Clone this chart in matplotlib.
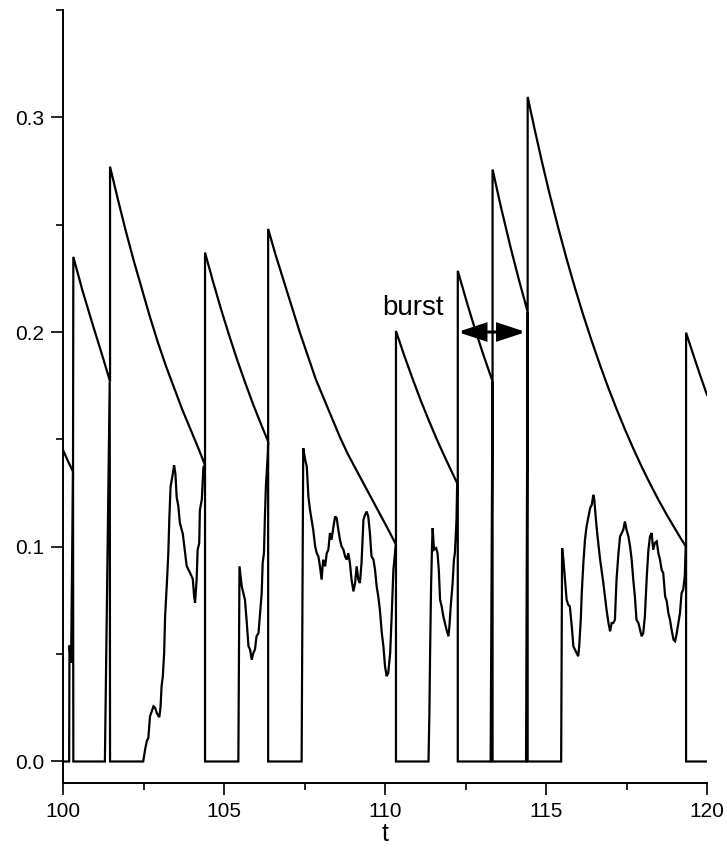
import numpy as np
import matplotlib
matplotlib.use("Agg")
import matplotlib.pyplot as plt
from matplotlib.ticker import MultipleLocator
from matplotlib.patches import FancyArrowPatch

plt.rcParams['font.family'] = ['Liberation Sans', 'DejaVu Sans']

# threshold: decaying after each spike, jumps up at the spike
thr_t = [100.00, 100.15, 100.31,
         100.32, 100.60, 100.90, 101.20, 101.46,
         101.46, 101.70, 101.95, 102.20, 102.45, 102.70, 102.95, 103.20, 103.45,
         103.70, 103.95, 104.20, 104.41,
         104.41, 104.65, 104.90, 105.15, 105.40, 105.65, 105.90, 106.15, 106.37,
         106.37, 106.60, 106.85, 107.10, 107.35, 107.60, 107.85, 108.10, 108.35,
         108.60, 108.85, 109.10, 109.35, 109.60, 109.85, 110.10, 110.34,
         110.34, 110.60, 110.85, 111.10, 111.35, 111.60, 111.85, 112.05, 112.26,
         112.26, 112.55, 112.80, 113.05, 113.34,
         113.34, 113.60, 113.90, 114.15, 114.43,
         114.43, 114.65, 114.87, 115.10, 115.38, 115.65, 115.90, 116.15, 116.42,
         116.68, 116.93, 117.20, 117.45, 117.70, 117.97, 118.23, 118.49, 118.75,
         119.01, 119.18, 119.35,
         119.35, 119.55, 119.75, 120.00]
thr_v = [0.145, 0.140, 0.135,
         0.235, 0.2195, 0.2045, 0.190, 0.177,
         0.277, 0.262, 0.247, 0.233, 0.220, 0.207, 0.195, 0.184, 0.174,
         0.164, 0.155, 0.146, 0.138,
         0.237, 0.2239, 0.211, 0.1989, 0.1874, 0.1767, 0.1665, 0.157, 0.149,
         0.248, 0.236, 0.224, 0.212, 0.200, 0.189, 0.178, 0.169, 0.160,
         0.151, 0.143, 0.136, 0.129, 0.122, 0.115, 0.108, 0.101,
         0.2005, 0.1889, 0.1785, 0.1685, 0.1592, 0.1503, 0.142, 0.1356, 0.129,
         0.2285, 0.2134, 0.2011, 0.1896, 0.177,
         0.2757, 0.2582, 0.2394, 0.2248, 0.2094,
         0.3095, 0.2942, 0.2795, 0.265, 0.2485, 0.2335, 0.2205, 0.2082, 0.1958,
         0.1845, 0.1742, 0.1638, 0.1547, 0.1461, 0.1373, 0.1294, 0.1219, 0.1149,
         0.1083, 0.104, 0.100,
         0.1997, 0.1905, 0.1815, 0.1707]

# signal: reset to zero at each spike
sig_t = [100.00, 100.19, 100.20, 100.25, 100.31, 100.32,
         101.30, 101.45, 101.46,
         102.49, 102.55, 102.60, 102.65, 102.70, 102.81, 102.86, 102.91, 102.99, 103.03,
         103.06, 103.10, 103.14, 103.17, 103.22, 103.27, 103.30, 103.34, 103.41, 103.45,
         103.49, 103.53, 103.58, 103.63, 103.72, 103.79, 103.84, 103.94, 104.03, 104.07,
         104.10, 104.15, 104.18, 104.23, 104.25, 104.31, 104.36, 104.41, 104.41,
         105.445, 105.48, 105.55, 105.65, 105.70, 105.76, 105.81, 105.86, 105.91, 105.96,
         106.01, 106.07, 106.12, 106.17, 106.20, 106.24, 106.27, 106.30, 106.36, 106.37, 106.37,
         107.41, 107.46, 107.52, 107.57, 107.62, 107.67, 107.72, 107.77, 107.83, 107.88,
         107.93, 107.98, 108.03, 108.08, 108.14, 108.19, 108.24, 108.29, 108.34, 108.40,
         108.45, 108.50, 108.55, 108.60, 108.65, 108.71, 108.76, 108.81, 108.86, 108.91,
         108.96, 109.02, 109.07, 109.12, 109.17, 109.22, 109.27, 109.33, 109.38, 109.43,
         109.48, 109.53, 109.58, 109.64, 109.69, 109.74, 109.79, 109.84, 109.90, 109.95,
         110.00, 110.05, 110.10, 110.16, 110.21, 110.26, 110.31, 110.34, 110.34,
         111.35, 111.38, 111.40, 111.43, 111.46, 111.48, 111.52, 111.59, 111.63, 111.67,
         111.71, 111.76, 111.81, 111.86, 111.91, 111.97, 112.00, 112.04, 112.10, 112.14,
         112.17, 112.22, 112.24, 112.26, 112.26,
         113.28, 113.34, 113.34,
         114.38, 114.43, 114.43,
         115.47, 115.50, 115.54, 115.59, 115.64, 115.69, 115.74, 115.80, 115.85, 115.90,
         115.95, 116.00, 116.03, 116.08, 116.11, 116.16, 116.21, 116.26, 116.31, 116.37,
         116.42, 116.47, 116.50, 116.55, 116.60, 116.68, 116.78, 116.88, 116.94, 116.99,
         117.04, 117.09, 117.14, 117.19, 117.25, 117.30, 117.35, 117.40, 117.45, 117.50,
         117.56, 117.61, 117.66, 117.71, 117.76, 117.81, 117.87, 117.92, 117.97, 118.02,
         118.07, 118.13, 118.18, 118.23, 118.28, 118.33, 118.38, 118.44, 118.49, 118.54,
         118.59, 118.64, 118.70, 118.75, 118.80, 118.85, 118.90, 118.96, 119.01, 119.06,
         119.11, 119.16, 119.21, 119.26, 119.31, 119.34, 119.35, 119.35, 119.99]
sig_v = [0.0, 0.0, 0.054, 0.046, 0.135, 0.0,
         0.0, 0.177, 0.0,
         0.0, 0.0056, 0.0095, 0.011, 0.021, 0.0257, 0.025, 0.0226, 0.0206, 0.0257,
         0.035, 0.0397, 0.0505, 0.0676, 0.0816, 0.097, 0.1126, 0.128, 0.134, 0.138,
         0.134, 0.123, 0.119, 0.111, 0.106, 0.097, 0.091, 0.088, 0.085, 0.077,
         0.074, 0.085, 0.0986, 0.1017, 0.117, 0.122, 0.137, 0.138, 0.0,
         0.0, 0.0909, 0.0816, 0.0753, 0.066, 0.0536, 0.0521, 0.0474, 0.0505, 0.0521,
         0.0583, 0.0598, 0.0691, 0.0784, 0.0924, 0.097, 0.114, 0.128, 0.1436, 0.149, 0.0,
         0.0, 0.1459, 0.1405, 0.1374, 0.1234, 0.1172, 0.1126, 0.1079, 0.1002, 0.097,
         0.0955, 0.0909, 0.0847, 0.094, 0.0909, 0.097, 0.0986, 0.1064, 0.1033, 0.1095,
         0.1141, 0.1133, 0.1079, 0.1033, 0.1002, 0.0986, 0.0955, 0.094, 0.097, 0.0924,
         0.0847, 0.0792, 0.0831, 0.0909, 0.0847, 0.0831, 0.0924, 0.1126, 0.1149, 0.1164,
         0.1141, 0.1064, 0.0955, 0.094, 0.0893, 0.0816, 0.0769, 0.0707, 0.0598, 0.0536,
         0.0443, 0.0397, 0.0412, 0.0505, 0.0691, 0.0893, 0.097, 0.101, 0.0,
         0.0, 0.0242, 0.0505, 0.0816, 0.1002, 0.1087, 0.0986, 0.0994, 0.097, 0.0893,
         0.0753, 0.0722, 0.0676, 0.0645, 0.0614, 0.0583, 0.0629, 0.0722, 0.0831, 0.094,
         0.097, 0.1126, 0.1288, 0.129, 0.0,
         0.0, 0.177, 0.0,
         0.0, 0.2094, 0.0,
         0.0, 0.0994, 0.094, 0.0847, 0.0753, 0.073, 0.0722, 0.0629, 0.0536, 0.0521,
         0.0505, 0.049, 0.0536, 0.066, 0.0784, 0.0924, 0.1033, 0.1095, 0.1133, 0.118,
         0.1195, 0.1242, 0.1219, 0.1126, 0.1048, 0.094, 0.0831, 0.0707, 0.0645, 0.0606,
         0.0645, 0.0645, 0.066, 0.0847, 0.097, 0.1048, 0.1064, 0.1079, 0.1118, 0.1079,
         0.1048, 0.1002, 0.094, 0.0847, 0.0769, 0.066, 0.0645, 0.0614, 0.0583, 0.0598,
         0.0676, 0.0862, 0.0986, 0.1048, 0.1064, 0.0986, 0.1017, 0.1025, 0.097, 0.094,
         0.0893, 0.0878, 0.0769, 0.0746, 0.0691, 0.066, 0.0614, 0.0567, 0.056, 0.0598,
         0.0645, 0.0691, 0.0784, 0.08, 0.0862, 0.1002, 0.100, 0.0, 0.0]

burst_start = 112.25
burst_end = 114.38
burst_level = 0.2

fig = plt.figure(figsize=(7.27, 8.48), dpi=100)
ax = fig.add_axes([0.0867, 0.0767, 0.8858, 0.9116])

ax.plot(thr_t, thr_v, color='black', lw=1.6, solid_joinstyle='miter')
ax.plot(sig_t, sig_v, color='black', lw=1.6, solid_joinstyle='miter')

arrow = FancyArrowPatch((burst_start, burst_level), (burst_end, burst_level),
                        arrowstyle='<|-|>,head_length=0.85,head_width=0.28',
                        mutation_scale=20, lw=2.2, color='black',
                        joinstyle='miter', capstyle='butt',
                        shrinkA=0, shrinkB=0)
ax.add_patch(arrow)
ax.text(109.9, 0.208, 'burst', fontsize=20, ha='left', va='baseline')

ax.set_xlim(100, 120)
ax.set_ylim(-0.01, 0.35)
ax.spines['top'].set_visible(False)
ax.spines['right'].set_visible(False)
ax.spines['left'].set_linewidth(1.4)
ax.spines['bottom'].set_linewidth(1.4)

ax.xaxis.set_major_locator(MultipleLocator(5))
ax.xaxis.set_minor_locator(MultipleLocator(2.5))
ax.yaxis.set_major_locator(MultipleLocator(0.1))
ax.yaxis.set_minor_locator(MultipleLocator(0.05))
ax.tick_params(which='major', direction='out', length=8.6, width=1.2, labelsize=15)
ax.tick_params(which='minor', direction='out', length=5, width=1.2)
ax.tick_params(axis='x', which='major', pad=5)
ax.tick_params(axis='y', which='major', pad=5)

ax.set_xlabel('t', fontsize=18, labelpad=1)

fig.savefig('out.png', dpi=100)
